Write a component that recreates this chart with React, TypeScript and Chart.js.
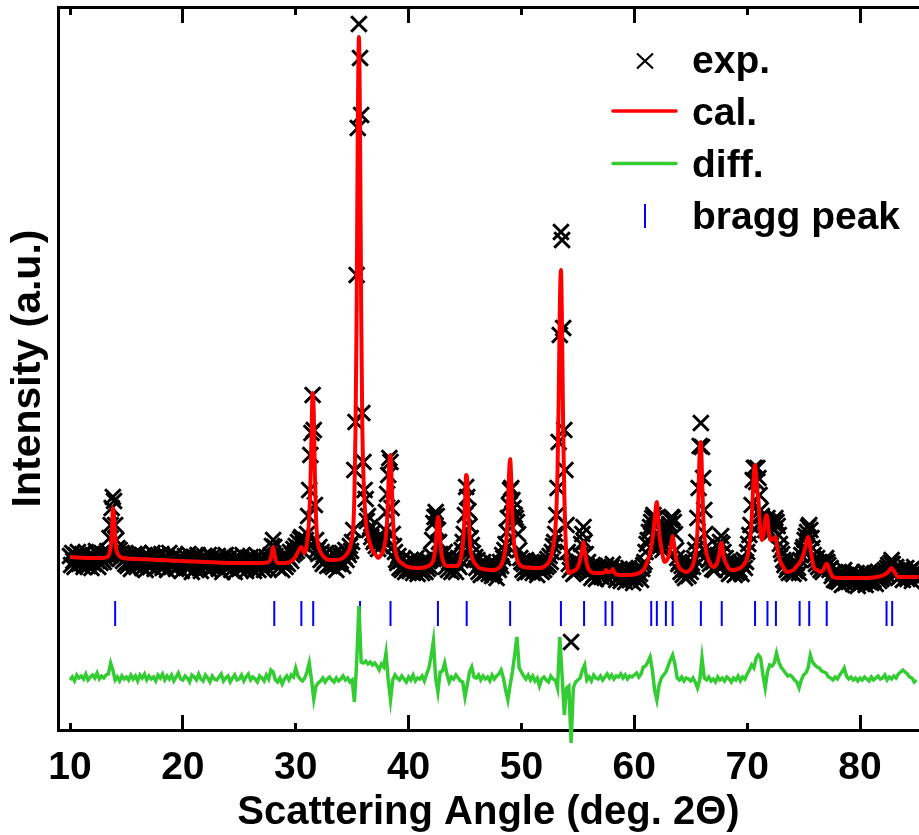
import { useEffect, useRef } from 'react';
import { Chart, registerables } from 'chart.js';

Chart.register(...registerables);

const FONT = '"Liberation Sans", Arial, Helvetica, sans-serif';

// axis ranges (deg. 2Theta / arbitrary intensity units)
const X_MIN = 8.9367;
const X_MAX = 85.2278;
const Y_MIN = 0;
const Y_MAX = 723;

const X_TICK_LABELS = [10, 20, 30, 40, 50, 60, 70, 80];
const X_MAJOR_TICKS = [20, 40, 60, 80];

// experimental pattern, step 0.1 deg from 10.0 deg
const EXP_START = 10;
const EXP_STEP = 0.1;
const EXP_Y = [
  174,165,177,169,163,175,170,178,166,172,
  167,176,163,171,178,168,164,173,169,162,
  175,166,172,179,169,163,174,167,177,170,
  168,176,171,179,174,192,205,222,233,229,
  205,190,182,176,180,172,177,169,175,166,
  172,164,175,168,161,173,167,176,170,163,
  171,177,165,170,162,174,168,160,172,166,
  174,163,170,177,166,161,173,168,175,164,
  169,176,162,171,165,174,160,168,177,166,
  163,172,167,175,161,170,164,173,168,159,
  171,165,174,162,168,176,163,170,158,167,
  173,161,169,175,164,170,159,172,166,174,
  162,171,166,175,160,169,173,163,170,165,
  168,174,161,167,172,158,170,164,175,162,
  169,163,173,160,167,171,158,166,174,164,
  161,170,165,175,163,168,159,172,166,170,
  173,162,168,159,171,165,174,160,167,170,
  164,171,160,168,173,162,170,167,175,184,
  190,183,174,166,171,162,168,173,160,167,
  170,163,174,166,172,178,169,175,181,177,
  184,179,188,182,191,193,186,178,185,190,
  196,214,240,275,297,335,300,225,190,180,
  176,183,170,178,166,175,169,177,164,172,
  174,165,171,163,176,168,160,172,166,175,
  169,177,164,173,180,170,178,175,184,179,
  188,200,260,308,455,602,706,672,615,317,
  268,240,231,209,214,200,203,193,197,188,
  190,184,189,181,187,191,184,193,189,200,
  218,236,255,272,268,222,196,184,178,170,
  167,174,162,169,160,171,164,158,168,161,
  166,159,170,163,157,168,161,172,156,165,
  160,168,157,164,170,158,166,161,169,163,
  175,190,207,213,218,214,200,188,176,170,
  175,170,178,163,171,160,168,174,158,167,
  161,169,158,166,172,163,170,180,188,196,
  215,243,233,219,204,192,185,177,170,173,
  162,170,158,166,155,164,168,157,163,159,
  165,156,162,168,154,161,157,166,152,163,
  160,168,164,175,172,180,186,198,212,225,
  240,242,230,222,215,212,208,196,180,172,
  168,160,166,157,170,163,158,167,161,165,
  157,166,162,169,155,163,160,168,158,164,
  160,168,163,171,165,174,168,178,184,188,
  196,215,242,288,395,498,490,402,300,260,
  205,178,166,160,88,163,156,165,158,167,
  160,168,175,186,196,203,188,176,164,168,
  158,163,152,160,155,164,151,159,162,154,
  160,153,162,156,163,165,158,151,161,156,
  163,166,155,160,150,158,153,161,149,157,
  152,160,148,157,154,162,150,158,153,147,
  159,151,160,154,162,156,150,161,165,168,
  178,186,190,198,203,208,212,215,210,212,
  205,196,190,184,188,180,185,190,196,200,
  203,206,210,213,212,208,196,180,172,166,
  168,158,164,155,161,152,160,166,154,163,
  158,167,163,172,180,188,212,242,284,307,
  283,252,220,196,183,176,170,166,172,161,
  168,160,171,165,175,182,188,194,186,178,
  166,172,160,168,156,165,158,163,167,155,
  163,157,166,160,168,156,165,170,162,168,
  178,186,195,205,225,250,262,262,248,262,
  252,235,220,214,210,205,200,210,212,208,
  205,198,203,207,210,212,208,204,195,186,
  180,176,170,165,168,160,163,157,164,158,
  163,156,165,159,167,162,157,170,175,180,
  183,190,194,198,203,205,200,192,182,175,
  170,166,172,163,168,160,165,158,167,170,
  172,168,165,160,162,154,157,150,158,149,
  155,148,157,151,145,154,160,147,153,150,
  148,156,151,158,146,153,149,157,144,152,
  155,147,154,150,158,145,152,156,148,153,
  147,155,150,157,146,153,158,149,155,151,
  158,153,160,156,162,165,160,167,170,166,
  160,155,163,157,152,159,154,161,150,158,
  156,162,151,158,154,160,149,157,163,152,
  157,
];

// calculated profile (angle, intensity)
const CAL_X = [
  10.0, 12.0, 13.0, 13.4, 13.5, 13.6, 13.7, 13.8, 13.9, 14.0,
  14.1, 14.3, 14.7, 16.0, 20.0, 25.0, 27.0, 27.6, 27.8, 27.9,
  28.0, 28.1, 28.2, 28.4, 29.0, 29.5, 29.9, 30.2, 30.4, 30.5,
  30.6, 30.75, 30.9, 31.0, 31.1, 31.2, 31.3, 31.4, 31.5, 31.6,
  31.7, 31.8, 31.9, 32.0, 32.2, 32.5, 33.0, 33.5, 34.0, 34.3,
  34.6, 34.8, 34.9, 35.0, 35.1, 35.2, 35.3, 35.4, 35.5, 35.6,
  35.7, 35.8, 35.9, 36.0, 36.1, 36.2, 36.3, 36.5, 36.7, 36.9,
  37.1, 37.3, 37.5, 37.7, 37.9, 38.0, 38.1, 38.2, 38.3, 38.4,
  38.5, 38.6, 38.7, 38.8, 38.9, 39.0, 39.5, 40.0, 41.0, 41.5,
  42.0, 42.2, 42.3, 42.4, 42.5, 42.6, 42.7, 42.8, 42.9, 43.0,
  43.4, 44.3, 44.6, 44.8, 44.9, 45.0, 45.1, 45.2, 45.3, 45.4,
  45.5, 45.7, 46.0, 46.3, 47.5, 48.0, 48.3, 48.5, 48.7, 48.8,
  48.9, 49.0, 49.1, 49.2, 49.3, 49.5, 49.7, 50.2, 51.6, 52.3,
  52.6, 52.8, 53.0, 53.1, 53.2, 53.3, 53.4, 53.5, 53.6, 53.7,
  53.8, 53.9, 54.0, 54.1, 54.2, 54.4, 54.8, 55.0, 55.2, 55.4,
  55.5, 55.6, 55.8, 56.0, 56.5, 57.0, 57.4, 57.5, 57.6, 58.0,
  58.1, 58.2, 58.7, 59.5, 60.2, 60.6, 60.8, 61.0, 61.2, 61.4,
  61.6, 61.8, 61.9, 62.0, 62.1, 62.2, 62.4, 62.6, 62.7, 62.9,
  63.1, 63.3, 63.4, 63.5, 63.7, 63.9, 64.2, 64.6, 65.0, 65.2,
  65.4, 65.6, 65.7, 65.8, 65.9, 66.0, 66.1, 66.2, 66.4, 66.7,
  67.0, 67.3, 67.5, 67.7, 67.8, 67.9, 68.0, 68.3, 68.6, 69.4,
  69.8, 70.0, 70.2, 70.4, 70.5, 70.6, 70.7, 70.8, 70.9, 71.0,
  71.1, 71.2, 71.3, 71.4, 71.5, 71.6, 71.7, 71.8, 71.9, 72.0,
  72.1, 72.3, 72.5, 72.6, 72.7, 72.9, 73.2, 73.5, 74.1, 74.4,
  74.7, 74.9, 75.1, 75.3, 75.4, 75.5, 75.7, 75.9, 76.2, 76.5,
  76.8, 77.0, 77.1, 77.3, 77.6, 78.2, 80.6, 81.5, 82.1, 82.5,
  82.7, 82.8, 83.0, 83.4, 84.0, 85.2,
];
const CAL_Y = [
  173, 172, 172, 174, 177, 182, 195, 222, 214, 194,
  181, 175, 172, 171, 169, 167, 167, 168, 172, 178,
  183, 177, 171, 167, 167, 168, 172, 178, 182, 183,
  181, 177, 180, 187, 197, 214, 245, 295, 337, 318,
  255, 212, 192, 184, 178, 173, 170, 170, 171, 173,
  177, 182, 187, 193, 203, 235, 300, 420, 600, 693,
  600, 420, 305, 255, 228, 210, 200, 190, 182, 178,
  175, 172, 174, 178, 186, 195, 210, 240, 268, 275,
  250, 215, 195, 182, 176, 172, 166, 163, 162, 163,
  166, 170, 176, 185, 200, 213, 210, 192, 178, 171,
  164, 164, 170, 185, 200, 225, 255, 250, 220, 195,
  180, 170, 165, 162, 160, 162, 167, 175, 195, 220,
  255, 271, 250, 215, 192, 176, 168, 163, 162, 166,
  172, 182, 200, 220, 260, 330, 420, 460, 400, 300,
  235, 195, 172, 160, 157, 158, 160, 163, 170, 182,
  188, 180, 166, 160, 157, 157, 158, 160, 158, 159,
  161, 158, 155, 155, 156, 158, 160, 164, 170, 177,
  190, 210, 222, 228, 215, 198, 182, 170, 168, 170,
  176, 188, 194, 188, 172, 164, 160, 158, 161, 165,
  175, 200, 240, 280, 288, 255, 217, 195, 177, 167,
  163, 166, 174, 187, 185, 175, 170, 163, 160, 162,
  167, 172, 185, 210, 235, 258, 265, 255, 240, 230,
  210, 195, 190, 193, 200, 210, 215, 212, 200, 192,
  190, 191, 193, 188, 180, 170, 163, 158, 160, 164,
  168, 173, 180, 190, 193, 190, 175, 163, 160, 158,
  161, 166, 166, 160, 153, 152, 152, 153, 155, 158,
  161, 162, 159, 153, 153, 153,
];

// difference curve (offset), step 0.2 deg from 10.0 deg
const DIFF_START = 10;
const DIFF_STEP = 0.2;
const DIFF_Y = [
  50,53,49,55,52, 54,51,56,50,53, 55,52,57,51,54, 52,55,56,67,60,
  50,53,49,54,51, 53,50,55,51,54, 49,55,52,56,50, 54,51,53,49,55,
  52,56,50,54,51, 55,49,53,57,51, 50,54,52,48,55, 53,50,56,51,49,
  55,52,48,54,51, 50,53,56,49,52, 54,48,52,55,50, 51,55,49,53,56,
  50,53,51,48,54, 52,49,55,51,60, 58,50,48,52,46, 51,54,50,55,53,
  62,54,51,49,52, 58,67,50,31,44, 47,49,52,48,51, 53,50,48,52,49,
  51,54,50,52,48, 50,28,67,124,68, 67,69,66,68,65, 67,64,60,66,63,
  77,50,30,50,55, 52,50,54,51,48, 53,50,55,49,52, 51,54,49,56,62,
  74,89,52,38,58, 59,67,56,48,53, 51,55,52,49,48, 33,45,58,63,53,
  52,55,50,54,51, 53,49,55,51,54, 56,60,52,40,30, 45,58,75,93,62,
  58,54,51,55,50, 54,49,52,44,51, 53,50,48,54,51, 50,42,93,55,15,
  42,44,-13,42,48, 50,52,60,65,50, 53,49,55,52,51, 54,50,53,56,52,
  55,51,54,53,56, 52,55,51,54,53, 55,57,53,56,63, 64,68,73,60,40,
  30,45,52,55,58, 64,70,75,66,52, 50,53,49,52,51, 49,52,48,42,50,
  72,52,50,53,49, 51,48,53,50,52, 49,53,51,48,52, 50,54,49,53,51,
  56,60,65,62,72, 75,72,55,42,58, 65,64,67,77,68, 63,60,57,54,55,
  53,50,48,42,50, 55,57,62,75,68, 65,63,62,59,58, 57,53,52,50,53,
  51,55,58,62,54, 51,53,50,52,49, 52,50,53,51,49, 53,50,52,54,51,
  52,55,50,53,51, 54,52,56,58,60, 58,56,53,52,48,
  50,
];

// Bragg reflection positions (deg. 2Theta)
const BRAGG_POS = [
  14.0, 28.1, 30.5, 31.55, 35.7, 38.4, 42.6, 45.15, 49.0, 53.5,
  55.55, 57.45, 58.05, 61.5, 62.0, 62.8, 63.4, 65.9, 67.75, 70.7,
  71.8, 72.55, 74.65, 75.5, 77.05, 82.35, 82.85,
];
const BRAGG_LEVEL = 116.5;

const COLORS = {
  exp: '#000000',
  cal: '#ff0000',
  diff: '#33cc33',
  bragg: '#0000ff',
};

const LEGEND_ITEMS = ['exp.', 'cal.', 'diff.', 'bragg peak'];

const tickMarksPlugin = {
  id: 'tickMarks',
  afterDraw(chart: any) {
    const { ctx, chartArea, scales } = chart;
    const xs = scales.x;
    ctx.save();
    ctx.strokeStyle = '#000';
    ctx.lineWidth = 3;
    ctx.lineCap = 'butt';
    for (const v of X_TICK_LABELS) {
      const px = Math.round(xs.getPixelForValue(v) - 1.5) + 1.5;
      const major = X_MAJOR_TICKS.includes(v);
      ctx.beginPath();
      ctx.moveTo(px, chartArea.bottom);
      ctx.lineTo(px, chartArea.bottom - (major ? 15 : 7));
      ctx.moveTo(px, chartArea.top);
      ctx.lineTo(px, chartArea.top + (major ? 16 : 8));
      ctx.stroke();
    }
    ctx.restore();
  },
};

const legendPlugin = {
  id: 'xrdLegend',
  afterDraw(chart: any) {
    const { ctx } = chart;
    const symX = 645;
    const textX = 692;
    const rows = [61, 111, 163.5, 216];
    const baselines = [73, 125, 177, 229];
    ctx.save();
    // exp. cross
    ctx.strokeStyle = COLORS.exp;
    ctx.lineWidth = 2.2;
    ctx.beginPath();
    ctx.moveTo(symX - 8, rows[0] - 7.5);
    ctx.lineTo(symX + 8, rows[0] + 7.5);
    ctx.moveTo(symX + 8, rows[0] - 7.5);
    ctx.lineTo(symX - 8, rows[0] + 7.5);
    ctx.stroke();
    // cal. line
    ctx.lineCap = 'round';
    ctx.lineWidth = 3.5;
    ctx.strokeStyle = COLORS.cal;
    ctx.beginPath();
    ctx.moveTo(613, rows[1]);
    ctx.lineTo(676, rows[1]);
    ctx.stroke();
    // diff. line
    ctx.strokeStyle = COLORS.diff;
    ctx.beginPath();
    ctx.moveTo(613, rows[2]);
    ctx.lineTo(676, rows[2]);
    ctx.stroke();
    // bragg tick
    ctx.lineCap = 'butt';
    ctx.lineWidth = 2;
    ctx.strokeStyle = COLORS.bragg;
    ctx.beginPath();
    ctx.moveTo(symX, rows[3] - 12);
    ctx.lineTo(symX, rows[3] + 12);
    ctx.stroke();
    // labels
    ctx.fillStyle = '#000';
    ctx.font = `bold 39px ${FONT}`;
    ctx.textAlign = 'left';
    ctx.textBaseline = 'alphabetic';
    LEGEND_ITEMS.forEach((t, i) => ctx.fillText(t, textX, baselines[i]));
    ctx.restore();
  },
};

export default function App() {
  const ref = useRef<HTMLCanvasElement | null>(null);

  useEffect(() => {
    const canvas = ref.current;
    if (!canvas) return;
    const exp = EXP_Y.map((y, i) => ({ x: +(EXP_START + i * EXP_STEP).toFixed(2), y }));
    const diff = DIFF_Y.map((y, i) => ({ x: +(DIFF_START + i * DIFF_STEP).toFixed(2), y }));
    const cal = CAL_X.map((x, i) => ({ x, y: CAL_Y[i] }));
    const bragg = BRAGG_POS.map((x) => ({ x, y: BRAGG_LEVEL }));

    const chart = new Chart(canvas, {
      type: 'scatter',
      data: {
        datasets: [
          {
            label: 'cal.',
            data: cal,
            showLine: true,
            borderColor: COLORS.cal,
            backgroundColor: COLORS.cal,
            borderWidth: 4,
            pointRadius: 0,
            cubicInterpolationMode: 'monotone',
            order: 0,
          },
          {
            label: 'exp.',
            data: exp,
            pointStyle: 'crossRot',
            pointRadius: 11,
            borderWidth: 3,
            pointBorderWidth: 3,
            borderColor: COLORS.exp,
            pointBorderColor: COLORS.exp,
            backgroundColor: COLORS.exp,
            order: 1,
          },
          {
            label: 'diff.',
            data: diff,
            showLine: true,
            borderColor: COLORS.diff,
            backgroundColor: COLORS.diff,
            borderWidth: 3.5,
            pointRadius: 0,
            clip: false,
            order: 2,
          },
          {
            label: 'bragg peak',
            data: bragg,
            pointStyle: 'line',
            pointRotation: 90,
            pointRadius: 12.5,
            borderWidth: 2,
            pointBorderWidth: 2,
            borderColor: COLORS.bragg,
            pointBorderColor: COLORS.bragg,
            backgroundColor: COLORS.bragg,
            order: 3,
          },
        ],
      } as any,
      options: {
        animation: false,
        responsive: false,
        devicePixelRatio: 1,
        events: [],
        layout: { padding: 0, autoPadding: false },
        plugins: {
          legend: { display: false },
          tooltip: { enabled: false },
        },
        scales: {
          x: {
            type: 'linear',
            position: 'bottom',
            min: X_MIN,
            max: X_MAX,
            afterBuildTicks: (s: any) => {
              s.ticks = X_TICK_LABELS.map((v) => ({ value: v }));
            },
            afterFit: (s: any) => {
              s.height = 105;
            },
            grid: { display: false, drawTicks: false },
            border: { display: true, color: '#000', width: 3 },
            ticks: {
              color: '#000',
              padding: 15,
              maxRotation: 0,
              autoSkip: false,
              font: { family: FONT, size: 39, weight: 'bold' },
              callback: (v: any) => String(v),
            },
            title: {
              display: true,
              text: 'Scattering Angle (deg. 2Θ)',
              color: '#000',
              font: { family: FONT, size: 40, weight: 'bold', lineHeight: 1 },
              padding: { top: 0, bottom: 2 },
            },
          },
          xTop: {
            type: 'linear',
            axis: 'x',
            position: 'top',
            min: X_MIN,
            max: X_MAX,
            afterFit: (s: any) => {
              s.height = 7;
            },
            grid: { display: false, drawTicks: false },
            border: { display: true, color: '#000', width: 3 },
            ticks: { display: false },
          },
          y: {
            type: 'linear',
            position: 'left',
            min: Y_MIN,
            max: Y_MAX,
            afterFit: (s: any) => {
              s.width = 58;
            },
            grid: { display: false, drawTicks: false },
            border: { display: true, color: '#000', width: 3 },
            ticks: { display: false },
            title: {
              display: true,
              text: 'Intensity (a.u.)',
              color: '#000',
              font: { family: FONT, size: 41, weight: 'bold' },
              padding: { top: 4, bottom: 0 },
            },
          },
        },
      } as any,
      plugins: [tickMarksPlugin, legendPlugin],
    });

    return () => chart.destroy();
  }, []);

  return (
    <div style={{ position: 'absolute', left: 0, top: 0, width: 919, height: 835, background: '#fff' }}>
      <canvas ref={ref} width={919} height={835} style={{ display: 'block', width: 919, height: 835 }} />
    </div>
  );
}
